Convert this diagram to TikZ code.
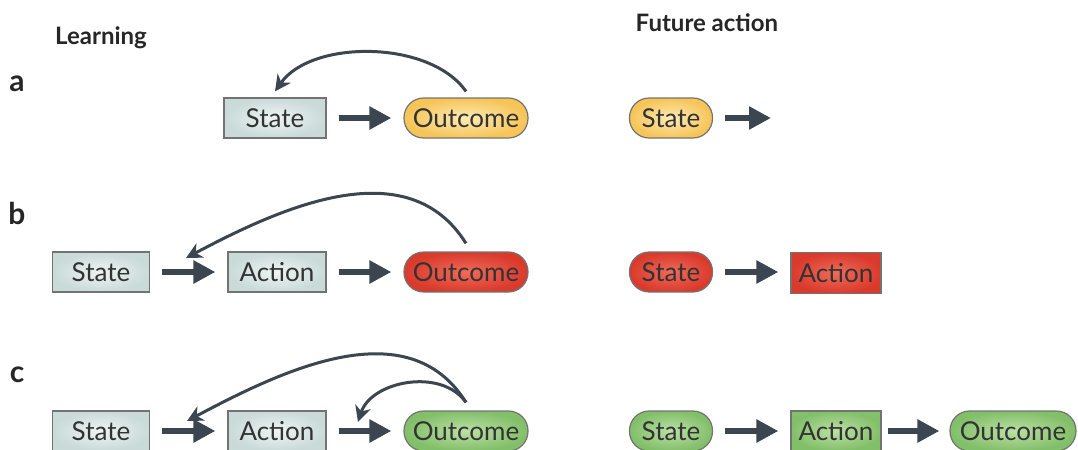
\documentclass[tikz,border=0pt]{standalone}
\usepackage{fontspec}
\setmainfont{Lato}
\usetikzlibrary{arrows.meta}

\definecolor{arrowgray}{HTML}{3B4651}
\definecolor{boxin}{HTML}{EEF4F3}
\definecolor{boxout}{HTML}{C9DAD9}
\definecolor{yelin}{HTML}{FDEBB5}
\definecolor{yelout}{HTML}{F6C457}
\definecolor{redin}{HTML}{EF6B5A}
\definecolor{redout}{HTML}{DA3A2C}
\definecolor{grnin}{HTML}{BCE0A6}
\definecolor{grnout}{HTML}{82BF69}

\begin{document}
\begin{tikzpicture}[x=0.5pt,y=-0.5pt]

\tikzset{box/.style = {shape=rectangle,draw=black!55,line width=0.6pt,minimum height=20pt,inner sep=0pt,font=\fontsize{13}{15}\selectfont,text=black!80,inner color=boxin,outer color=boxout}}
\tikzset{pill/.style = {box,rounded corners=9.8pt}}
\tikzset{yel/.style = {inner color=yelin,outer color=yelout}}
\tikzset{red/.style = {inner color=redin,outer color=redout}}
\tikzset{grn/.style = {inner color=grnin,outer color=grnout}}
\tikzset{step arrow/.style = {-{Triangle[length=11pt,width=11pt]},line width=2.8pt,draw=arrowgray,shorten <=6pt,shorten >=6pt}}
\tikzset{back arrow/.style = {-{Stealth[length=8pt,width=8pt,inset=2.5pt]},line width=1.5pt,draw=arrowgray}}
\tikzset{head/.style = {font=\fontsize{12}{14}\selectfont\bfseries,text=black!85}}
\tikzset{tag/.style = {font=\fontsize{15}{17}\selectfont\bfseries,text=black!85}}

\useasboundingbox (0,0) rectangle (1078,450);

%titles
\node[head] (learn) at (101,38) {Learning};
\node[head] (future) at (707,23) {Future action};
\node[tag] (ta) at (17,84) {a};
\node[tag] (tb) at (17,213) {b};
\node[tag] (tc) at (17,375) {c};

%row a
\node[box, minimum width=51pt] (sa) at (275,118) {State};
\node[pill, yel, minimum width=62pt] (oa) at (466,118) {Outcome};
\node[pill, yel, minimum width=41.5pt] (fsa) at (671,118) {State};
\coordinate (fea) at (783,118);
\draw [step arrow] (sa) -- (oa);
\draw [step arrow] (fsa) -- (fea);
\draw [back arrow] ([yshift=3pt]oa.north) to[out=125,in=55,looseness=0.85] ([yshift=3pt]sa.north);

%row b
\node[box, minimum width=48.5pt] (sb) at (101,272) {State};
\node[box, minimum width=49pt] (ab) at (277,272) {Action};
\node[pill, red, minimum width=62pt] (ob) at (466,272) {Outcome};
\node[pill, red, minimum width=41.5pt] (fsb) at (671,272) {State};
\node[box, red, minimum width=45pt, minimum height=20.5pt, text depth=-1pt] (fab) at (836,273) {Action};
\coordinate (kb) at (186,258);
\draw [step arrow] (sb) -- (ab);
\draw [step arrow] (ab) -- (ob);
\draw [step arrow] (fsb.east) -- (fsb.east -| fab.west);
\draw [back arrow] ([yshift=4pt]ob.north) to[out=122,in=28] (kb);

%row c
\node[box, minimum width=48.5pt] (sc) at (101,431) {State};
\node[box, minimum width=49pt] (ac) at (277,431) {Action};
\node[pill, grn, minimum width=62pt] (oc) at (466,431) {Outcome};
\node[pill, grn, minimum width=41.5pt] (fsc) at (671,431) {State};
\node[box, grn, minimum width=45pt] (fac) at (836,431) {Action};
\node[pill, grn, minimum width=63pt] (foc) at (1013,431) {Outcome};
\coordinate (kc) at (187,421);
\coordinate (kd) at (358,422);
\draw [step arrow] (sc) -- (ac);
\draw [step arrow] (ac) -- (oc);
\draw [step arrow] (fsc) -- (fac);
\draw [step arrow, shorten <=3pt, shorten >=5pt] (fac) -- (foc);
\draw [back arrow] ([yshift=4pt]oc.north) to[out=122,in=28] (kc);
\draw [back arrow] ([yshift=4pt]oc.north) to[out=125,in=72] (kd);

\end{tikzpicture}
\end{document}
